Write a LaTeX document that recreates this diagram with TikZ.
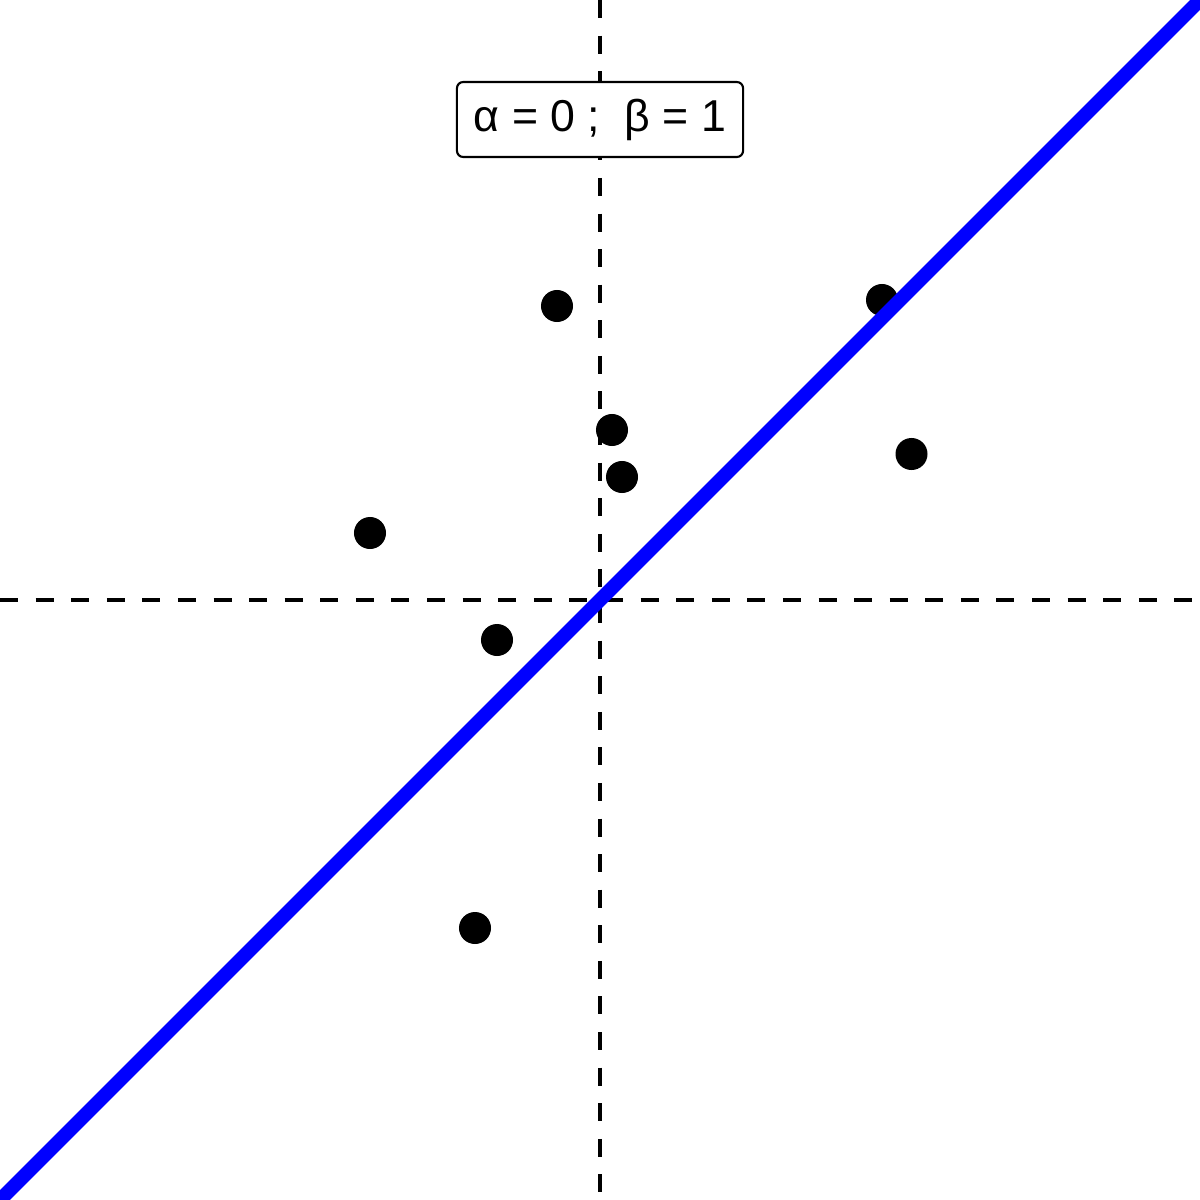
\documentclass[tikz,border=0pt]{standalone}
\usepackage{fontspec}
\setmainfont{Liberation Sans}
\begin{document}
\begin{tikzpicture}[x=0.01cm,y=-0.01cm,
  axisline/.style={line width=1.14pt,dash pattern=on 5.12pt off 5.0pt},
  dot/.style={circle,fill=black,inner sep=0pt,minimum size=0.32cm},
  fitline/.style={blue,line width=4pt},
  labelbox/.style={draw,fill=white,rounded corners=1.8pt,line width=0.6pt,minimum width=2.86cm,minimum height=0.75cm,inner sep=0pt,font=\fontsize{12.7}{15}\selectfont}]
\useasboundingbox (0,0) rectangle (1200,1200);
\coordinate (vt) at (600,0);
\coordinate (vb) at (600,1200);
\coordinate (hl) at (0,600);
\coordinate (hr) at (1200,600);
\coordinate (ll) at (0,1200);
\coordinate (ur) at (1200,0);
\draw[axisline] (vt) -- (vb);
\draw[axisline] (hl) -- (hr);
\node[dot] (p1) at (557,306) {};
\node[dot] (p2) at (882,300) {};
\node[dot] (p3) at (612,430) {};
\node[dot] (p4) at (622,477) {};
\node[dot] (p5) at (911.5,454) {};
\node[dot] (p6) at (370,533) {};
\node[dot] (p7) at (497,640) {};
\node[dot] (p8) at (475,928) {};
\draw[fitline] (ll) -- (ur);
\node[labelbox] (lab) at (600,119.5) {α = 0 ;\hspace{0.55em}β = 1};
\end{tikzpicture}
\end{document}
